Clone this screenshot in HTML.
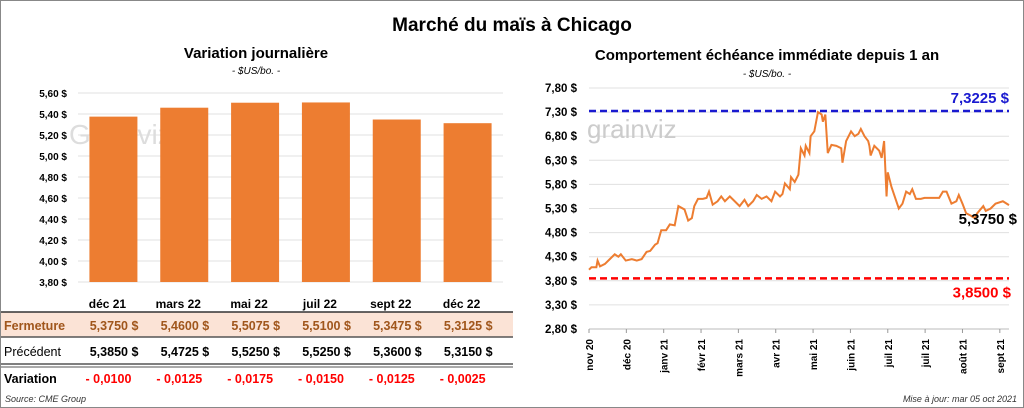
<!DOCTYPE html>
<html><head><meta charset="utf-8"><style>
body{margin:0;background:#fff;font-family:"Liberation Sans",Calibri,sans-serif}
#wrap{position:relative;width:1022px;height:406px;border:1px solid #888;overflow:hidden}
svg text{font-family:"Liberation Sans",sans-serif}
</style></head><body>
<div id="wrap">
<svg id="s" width="1022" height="406">
<text x="511" y="30" text-anchor="middle" font-size="19" font-weight="bold">Marché du maïs à Chicago</text>
<text x="255" y="57" text-anchor="middle" font-size="15" font-weight="bold">Variation journalière</text>
<text x="255" y="73" text-anchor="middle" font-size="10" font-style="italic">- $US/bo. -</text>
<text x="766" y="59" text-anchor="middle" font-size="15" font-weight="bold">Comportement échéance immédiate depuis 1 an</text>
<text x="766" y="76" text-anchor="middle" font-size="10" font-style="italic">- $US/bo. -</text>
<g id="left"></g><g id="right"></g><g id="tbl"></g>
<text x="4" y="401" font-size="9" font-style="italic" fill="#333">Source: CME Group</text>
<text x="1016" y="401" text-anchor="end" font-size="9" font-style="italic" fill="#333">Mise à jour: mar 05 oct 2021</text>
</svg></div>
<script>
const contracts=["déc 21","mars 22","mai 22","juil 22","sept 22","déc 22"];
const closeVals=[5.3750,5.4600,5.5075,5.5100,5.3475,5.3125];
const prevVals=[5.3850,5.4725,5.5250,5.5250,5.3600,5.3150];
const leftTicks=[3.8,4.0,4.2,4.4,4.6,4.8,5.0,5.2,5.4,5.6];
const days=[0,2,6,7,9,13,17,21,24,26,30,35,39,43,47,50,54,56,59,63,66,70,73,78,81,84,86,89,93,96,98,101,105,108,111,115,119,123,127,130,134,137,141,145,149,152,156,158,160,164,165,168,171,173,176,177,180,181,184,187,190,191,193,195,198,202,206,207,210,214,217,220,222,225,228,229,230,233,237,239,241,243,244,247,251,253,256,259,262,264,267,271,274,278,282,286,289,292,296,300,302,305,308,312,315,317,322,324,328,332,338,343];
const prices=[4.03,4.08,4.08,4.22,4.10,4.15,4.25,4.35,4.30,4.35,4.22,4.25,4.22,4.25,4.40,4.42,4.55,4.58,4.85,4.85,4.97,4.95,5.35,5.28,5.05,5.10,5.35,5.50,5.50,5.52,5.65,5.38,5.45,5.55,5.45,5.55,5.45,5.35,5.48,5.35,5.45,5.58,5.50,5.55,5.45,5.65,5.55,5.60,5.82,5.70,5.95,5.85,6.00,6.55,6.40,6.60,6.45,6.80,6.90,7.30,7.25,7.10,7.25,6.45,6.62,6.60,6.55,6.25,6.70,6.90,6.80,6.85,6.95,6.80,6.70,6.60,6.40,6.60,6.50,6.35,6.70,5.55,6.05,5.75,5.45,5.30,5.40,5.65,5.60,5.70,5.50,5.50,5.52,5.52,5.52,5.52,5.65,5.65,5.40,5.45,5.58,5.40,5.20,5.15,5.10,5.20,5.35,5.25,5.30,5.40,5.45,5.37];
const rightTicks=[2.8,3.3,3.8,4.3,4.8,5.3,5.8,6.3,6.8,7.3,7.8];
const monthLabels=["nov 20","déc 20","janv 21","févr 21","mars 21","avr 21","mai 21","juin 21","juil 21","juil 21","août 21","sept 21"];
const highVal=7.3225, lowVal=3.85, lastVal=5.375;
const NS="http://www.w3.org/2000/svg";
function mk(p,t,a,txt){const e=document.createElementNS(NS,t);for(const k in a)e.setAttribute(k,a[k]);if(txt!==undefined)e.textContent=txt;p.appendChild(e);return e;}
const fmt=(v,d)=>v.toFixed(d).replace('.',',');
// left
const L=document.getElementById('left');
const ly=v=>281-(v-3.8)/1.8*189, lx0=77, lw=425, bw=425/6;
leftTicks.forEach(t=>{const g=mk(L,'line',{x1:lx0,x2:lx0+lw,y1:ly(t),y2:ly(t),stroke:'#e0e0e0'});

const tx=mk(L,'text',{x:66,y:ly(t)+4,'text-anchor':'end','font-size':10,'font-weight':'bold'},fmt(t,2)+' $');
});
mk(L,'text',{x:68,y:143,'font-size':28,fill:'#ddd'},'Grainviz');
closeVals.forEach((v,i)=>{const cx=lx0+bw*(i+0.5);
const r=mk(L,'rect',{x:cx-24,y:ly(v),width:48,height:281-ly(v),fill:'#ed7d31'});
});
// table
const T=document.getElementById('tbl');
mk(T,'rect',{x:0,y:311,width:512,height:25,fill:'#fbe3d6'});
mk(T,'line',{x1:0,x2:512,y1:311,y2:311,stroke:'#333','stroke-width':1.5});
mk(T,'line',{x1:0,x2:512,y1:336,y2:336,stroke:'#555','stroke-width':1.5});
mk(T,'line',{x1:0,x2:512,y1:363,y2:363,stroke:'#555','stroke-width':1.5});
mk(T,'line',{x1:0,x2:512,y1:366,y2:366,stroke:'#555','stroke-width':1});
const rows=[["Fermeture",'#a0561c','bold'],["Précédent",'#000','normal'],["Variation",'#000','bold']];
rows.forEach((r,k)=>{const t=mk(T,'text',{x:3,y:[329,355,382][k],'font-size':12.5,fill:r[1],'font-weight':r[2]},r[0]);
});
contracts.forEach((c,i)=>{const cx=lx0+bw*(i+0.5);
const h=mk(T,'text',{x:cx-6,y:307,'text-anchor':'middle','font-size':12,'font-weight':'bold'},c);

const a=mk(T,'text',{x:cx+25,y:329,'text-anchor':'end','font-size':12.5,'font-weight':'bold',fill:'#a0561c',
'xml:space':'preserve'},fmt(closeVals[i],4)+'  $');
const b=mk(T,'text',{x:cx+25,y:355,'text-anchor':'end','font-size':12.5,'font-weight':'bold','xml:space':'preserve'},fmt(prevVals[i],4)+'  $');

const d=closeVals[i]-prevVals[i];
const v=mk(T,'text',{x:cx+18,y:382,'text-anchor':'end','font-size':12.5,'font-weight':'bold',fill:'#f00'},(d<0?'- ':'')+fmt(Math.abs(d),4));
});
// right
const R=document.getElementById('right');
const ry=v=>328-(v-2.8)/5*241, rx=d=>588+d/343*420;
rightTicks.forEach(t=>{const g=mk(R,'line',{x1:588,x2:1008,y1:ry(t),y2:ry(t),stroke:'#e0e0e0'});

const tx=mk(R,'text',{x:576,y:ry(t)+4,'text-anchor':'end','font-size':11.5,'font-weight':'bold'},fmt(t,2)+' $');
});
mk(R,'line',{x1:588,x2:1008,y1:328,y2:328,stroke:'#bbb'});
mk(R,'text',{x:586,y:137,'font-size':26,fill:'#ccc'},'grainviz');
monthLabels.forEach((m,i)=>{const x=rx(i*30.5);
mk(R,'line',{x1:x,x2:x,y1:328,y2:332,stroke:'#999'});
const t=mk(R,'text',{transform:`translate(${x+4},338) rotate(-90)`,'text-anchor':'end','font-size':10,'font-weight':'bold'},m);
});
const hl=mk(R,'line',{x1:588,x2:1008,y1:ry(highVal),y2:ry(highVal),stroke:'#1a1ad0','stroke-width':2.5,'stroke-dasharray':'7,4'});

const ll=mk(R,'line',{x1:588,x2:1008,y1:ry(lowVal),y2:ry(lowVal),stroke:'#f00','stroke-width':2.5,'stroke-dasharray':'7,4'});

const p=mk(R,'polyline',{points:days.map((d,i)=>rx(d)+','+ry(prices[i])).join(' '),fill:'none',stroke:'#ed7d31','stroke-width':2});

const h1=mk(R,'text',{x:1008,y:ry(highVal)-8,'text-anchor':'end','font-size':15,'font-weight':'bold',fill:'#1a1ad0'},fmt(highVal,4)+' $');

const l1=mk(R,'text',{x:1010,y:ry(lowVal)+19,'text-anchor':'end','font-size':15,'font-weight':'bold',fill:'#f00'},fmt(lowVal,4)+' $');

const c1=mk(R,'text',{x:1016,y:ry(lastVal)+19,'text-anchor':'end','font-size':15,'font-weight':'bold'},fmt(lastVal,4)+' $');

</script></body></html>
